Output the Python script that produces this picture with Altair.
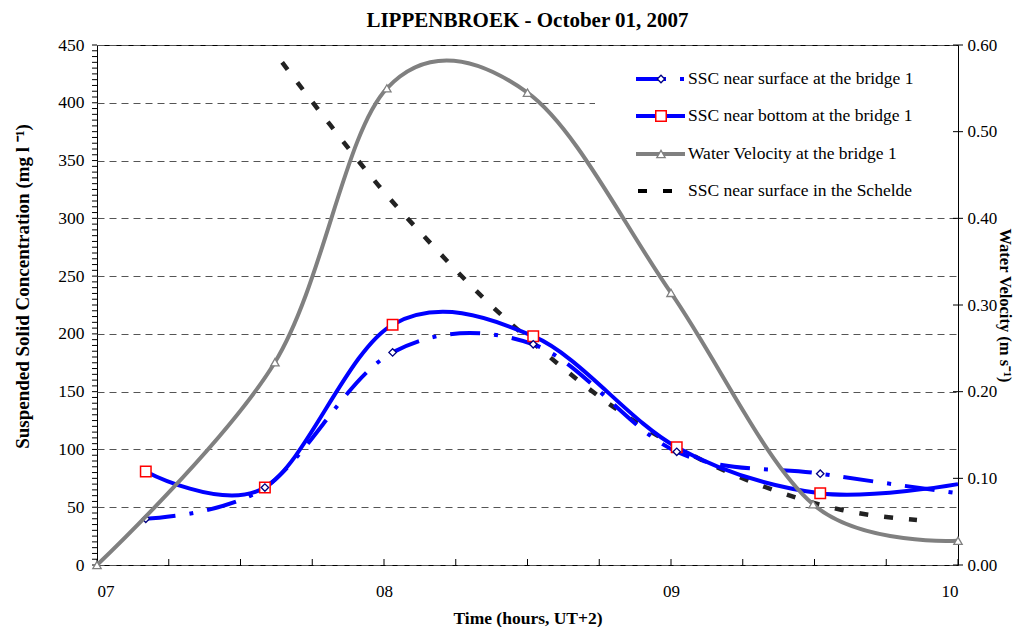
import altair as alt
import pandas as pd

# ---------------- data ----------------
bridge_time = [7.17, 7.585, 8.03, 8.52, 9.02, 9.52]
ssc_surface = [40, 67, 184, 191, 98, 79]
ssc_bottom = [81, 67, 208, 198, 102, 62]
tail_time = [10.0]
ssc_surface_tail = [62]
ssc_bottom_tail = [70]

vel_time = [7.0, 7.62, 8.01, 8.50, 9.0, 9.495, 10.0]
velocity = [0.0, 0.234, 0.550, 0.545, 0.314, 0.070, 0.028]

schelde_time = [7.645, 7.812, 7.979, 8.160, 8.355, 8.568, 8.798, 9.059, 9.328, 9.596, 9.857]
schelde_ssc = [435, 381, 329, 279, 229, 182, 137, 97, 67.5, 47.6, 38.9]

x_tick_labels = [7, 8, 9, 10]
ssc_ticks = [0, 50, 100, 150, 200, 250, 300, 350, 400, 450]
vel_ticks = [0.0, 0.1, 0.2, 0.3, 0.4, 0.5, 0.6]
x_minor = [7 + 0.25 * i for i in range(13)]
ssc_minor = [5 * i for i in range(91)]

legend_labels = [
    "SSC near surface at the bridge 1",
    "SSC near bottom at the bridge 1",
    "Water Velocity at the bridge 1",
    "SSC near surface in the Schelde",
]

# ---------------- styling ----------------
SERIF = "Liberation Serif"
W, H = 861, 520
BLUE = "#0000FF"
GRAY = "#808080"
DASHDOT = [30, 14, 4, 14]
SCHELDE_DASH = [9, 16]

surf_line = pd.DataFrame({"t": bridge_time + tail_time, "v": ssc_surface + ssc_surface_tail})
surf_pts = pd.DataFrame({"t": bridge_time, "v": ssc_surface})
bot_line = pd.DataFrame({"t": bridge_time + tail_time, "v": ssc_bottom + ssc_bottom_tail})
bot_pts = pd.DataFrame({"t": bridge_time, "v": ssc_bottom})
vel_df = pd.DataFrame({"t": vel_time, "vel": velocity})
sch_df = pd.DataFrame({"t": schelde_time, "v": schelde_ssc})
xt_df = pd.DataFrame({"t": x_minor})
st_df = pd.DataFrame({"v": ssc_minor})
vt_df = pd.DataFrame({"vel": vel_ticks})

X = alt.X(
    "t:Q",
    scale=alt.Scale(domain=[7, 10], nice=False, zero=False),
    axis=alt.Axis(
        values=x_tick_labels,
        labelExpr="datum.value < 10 ? '0' + datum.value : '' + datum.value",
        ticks=False, tickSize=0, domain=False, grid=False,
        title="Time (hours, UT+2)",
        labelFont=SERIF, labelFontSize=17, labelColor="black", labelPadding=18,
        titleFont=SERIF, titleFontSize=17.5, titleFontWeight="bold", titleColor="black",
        titlePadding=10,
    ),
)

Y = alt.Y(
    "v:Q",
    scale=alt.Scale(domain=[0, 450], nice=False),
    axis=alt.Axis(
        values=ssc_ticks, ticks=False, tickSize=0, domain=False,
        grid=True, gridDash=[7, 5], gridColor="#555555", gridWidth=1,
        title="Suspended Solid Concentration (mg l ⁻¹)",
        labelFont=SERIF, labelFontSize=17.5, labelColor="black", labelPadding=13,
        titleFont=SERIF, titleFontSize=19, titleFontWeight="bold", titleColor="black",
        titlePadding=25, titleY=241,
    ),
)

YV = alt.Y(
    "vel:Q",
    scale=alt.Scale(domain=[0, 0.6], nice=False),
    axis=alt.Axis(
        orient="right", values=vel_ticks, format=".2f", ticks=False, tickSize=0,
        domain=False, grid=False,
        title="Water Velocity (m s⁻¹)",
        labelFont=SERIF, labelFontSize=17, labelColor="black", labelPadding=9,
        titleFont=SERIF, titleFontSize=16.5, titleFontWeight="bold", titleColor="black",
        titlePadding=0,
    ),
)

one = alt.Data(values=[{}])

# legend box (white, covers grid lines)
legend_box = alt.Chart(one).mark_rect(fill="white", stroke=None).encode(
    x=alt.value(498), x2=alt.value(W - 1), y=alt.value(10), y2=alt.value(166)
)

# axis minor ticks
x_ticks = alt.Chart(xt_df).mark_rule(color="black", strokeWidth=1).encode(
    x=X, y=alt.value(H), y2=alt.value(H - 6)
)
y_ticks = alt.Chart(st_df).mark_rule(color="black", strokeWidth=1).encode(
    y=Y, x=alt.value(-5), x2=alt.value(0)
)

schelde = alt.Chart(sch_df).mark_line(
    color="#222222", strokeWidth=4.5, strokeDash=SCHELDE_DASH, interpolate="monotone"
).encode(x=X, y=Y)

bottom_line = alt.Chart(bot_line).mark_line(
    color=BLUE, strokeWidth=4, interpolate="cardinal", tension=0
).encode(x=X, y=Y)
surface_line = alt.Chart(surf_line).mark_line(
    color=BLUE, strokeWidth=4, strokeDash=DASHDOT, interpolate="cardinal", tension=0
).encode(x=X, y=Y)
bottom_pts = alt.Chart(bot_pts).mark_point(
    shape="square", size=110, filled=True, fill="white", stroke="#FF0000", strokeWidth=1.5, opacity=1
).encode(x=X, y=Y)
surface_pts = alt.Chart(surf_pts).mark_point(
    shape="diamond", size=55, filled=True, fill="white", stroke="#000080", strokeWidth=1.3, opacity=1
).encode(x=X, y=Y)

ssc_layer = alt.layer(
    legend_box, y_ticks, schelde, bottom_line, surface_line, bottom_pts, surface_pts, x_ticks
)

vel_line = alt.Chart(vel_df).mark_line(
    color=GRAY, strokeWidth=4, interpolate="cardinal", tension=0
).encode(x=X, y=YV)
vel_pts = alt.Chart(vel_df).mark_point(
    shape="triangle-up", size=70, filled=True, fill="white", stroke=GRAY, strokeWidth=1.3, opacity=1
).encode(x=X, y=YV)
vel_ticks_r = alt.Chart(vt_df).mark_rule(color="black", strokeWidth=1).encode(
    y=YV, x=alt.value(W - 5), x2=alt.value(W + 5)
)
vel_layer = alt.layer(vel_line, vel_pts, vel_ticks_r)

# custom legend
LX0, LX1, LXM, LXT = 539, 588, 564, 591
LY = [34, 71, 109, 146]
leg = []
leg.append(alt.Chart(one).mark_rule(color=BLUE, strokeWidth=4, strokeDash=DASHDOT).encode(
    x=alt.value(LX0), x2=alt.value(LX1), y=alt.value(LY[0])))
leg.append(alt.Chart(one).mark_point(shape="diamond", size=55, filled=True, fill="white",
    stroke="#000080", strokeWidth=1.3, opacity=1).encode(x=alt.value(LXM), y=alt.value(LY[0])))
leg.append(alt.Chart(one).mark_rule(color=BLUE, strokeWidth=4).encode(
    x=alt.value(LX0), x2=alt.value(LX1), y=alt.value(LY[1])))
leg.append(alt.Chart(one).mark_point(shape="square", size=110, filled=True, fill="white",
    stroke="#FF0000", strokeWidth=1.5, opacity=1).encode(x=alt.value(LXM), y=alt.value(LY[1])))
leg.append(alt.Chart(one).mark_rule(color=GRAY, strokeWidth=4).encode(
    x=alt.value(LX0), x2=alt.value(LX1), y=alt.value(LY[2])))
leg.append(alt.Chart(one).mark_point(shape="triangle-up", size=70, filled=True, fill="white",
    stroke=GRAY, strokeWidth=1.3, opacity=1).encode(x=alt.value(LXM), y=alt.value(LY[2])))
leg.append(alt.Chart(one).mark_rule(color="black", strokeWidth=4, strokeDash=SCHELDE_DASH).encode(
    x=alt.value(LX0 + 2), x2=alt.value(LX0 + 36), y=alt.value(LY[3])))
for i, lab in enumerate(legend_labels):
    leg.append(alt.Chart(one).mark_text(
        font=SERIF, fontSize=17.5, color="black", align="left", baseline="middle"
    ).encode(x=alt.value(LXT), y=alt.value(LY[i]), text=alt.value(lab)))
legend_layer = alt.layer(*leg)

chart = alt.layer(ssc_layer, vel_layer, legend_layer).resolve_scale(y="independent").properties(
    width=W, height=H,
    title=alt.TitleParams(
        "LIPPENBROEK - October 01, 2007", font=SERIF, fontSize=21, fontWeight="bold",
        anchor="middle", offset=5, color="black"
    ),
    autosize=alt.AutoSizeParams(type="none"),
    padding={"left": 89, "top": 37, "right": 59, "bottom": 62},
).configure_view(stroke="black", strokeWidth=1)

chart.save("out.html", embed_options={"renderer": "svg", "actions": False})
